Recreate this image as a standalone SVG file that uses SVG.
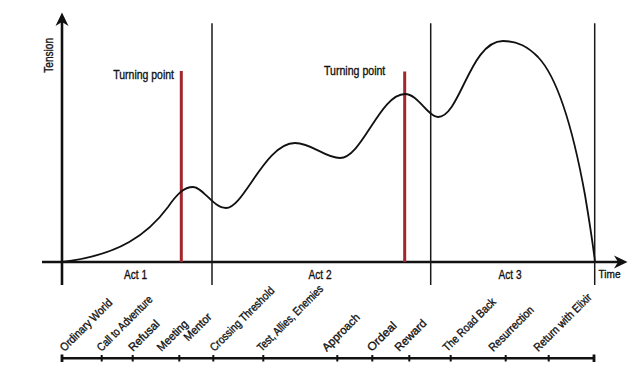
<svg xmlns="http://www.w3.org/2000/svg" width="640" height="371" viewBox="0 0 640 371">
<defs>
<marker id="arrow" viewBox="0 0 14 14" refX="4" refY="7" markerWidth="14" markerHeight="14" markerUnits="userSpaceOnUse" orient="auto">
<path d="M0,0.5 L13.5,7 L0,13.5 L4,7 Z" fill="#111"/>
</marker>
</defs>
<style>
.axis{stroke:#111;stroke-width:2.6;fill:none}
.div{stroke:#1a1a1a;stroke-width:1.5;fill:none}
.tp{stroke:#a3262c;stroke-width:3;fill:none}
.curve{stroke:#111;stroke-width:1.8;fill:none}
.t{font-family:"Liberation Sans",Arial,sans-serif;fill:#111;stroke:#111;stroke-width:0.35}
.lab{font-size:11.5px}
.big{font-size:12.5px}
</style>
<rect width="640" height="371" fill="#fff"/>
<g id="connectors">
<line id="y-axis" class="axis" x1="62" y1="285" x2="62" y2="22" marker-end="url(#arrow)"/>
<line id="x-axis" class="axis" x1="42" y1="262" x2="618" y2="262" marker-end="url(#arrow)"/>
<path id="act-dividers" class="div" d="M212,23.3V285M430.7,23.3V285M594.7,23.3V285"/>
<path id="turning-lines" class="tp" d="M181.3,71V262M404.7,71.5V262"/>
<path id="tension-curve" class="curve" d="M62,262 C120,255 148,234 168,207 C177,194 184,187 193,187 C203,187 213,208 226,208 C244,208 265,143 295,143 C312,143 325,158 340,158 C362,158 380,94 405,94 C418,94 428,117 438,117 C460,117 470,41 503,41 C518,41 528,47 538,57 C560,80 575,140 585,195 C590,225 593,245 595,262"/>
<line id="timeline" class="axis" x1="61" y1="358.3" x2="595" y2="358.3"/>
<path id="ticks" stroke="#111" stroke-width="2" fill="none" d="M101.7,355V361.5M132.7,355V361.5M179.3,355V361.5M213.3,355V361.5M263.3,355V361.5M337.3,355V361.5M372.3,355V361.5M409.3,355V361.5M450.7,355V361.5M505.7,355V361.5M548.7,355V361.5"/>
<path id="end-ticks" stroke="#111" stroke-width="2.8" fill="none" d="M62,354.5V362M594,354.5V362"/>
</g>
<g id="axis-labels">
<text class="t big" transform="translate(52.7,72.7) rotate(-90)" textLength="34.7" lengthAdjust="spacingAndGlyphs">Tension</text>
<text class="t" font-size="11.5" x="598.5" y="277.7" textLength="22" lengthAdjust="spacingAndGlyphs">Time</text>
</g>
<g id="acts">
<text class="t big" x="124" y="279.3" textLength="23" lengthAdjust="spacingAndGlyphs">Act 1</text>
<text class="t big" x="308.5" y="279.3" textLength="23" lengthAdjust="spacingAndGlyphs">Act 2</text>
<text class="t big" x="498.5" y="279.3" textLength="23" lengthAdjust="spacingAndGlyphs">Act 3</text>
</g>
<g id="turning-point-1"><text class="t big" x="113.3" y="78.7" textLength="60.7" lengthAdjust="spacingAndGlyphs">Turning point</text></g>
<g id="turning-point-2"><text class="t big" x="324" y="74.5" textLength="61.3" lengthAdjust="spacingAndGlyphs">Turning point</text></g>
<g id="stages">
<text class="t lab" transform="translate(64.5,352) rotate(-45)" textLength="68.7" lengthAdjust="spacingAndGlyphs">Ordinary World</text>
<text class="t lab" transform="translate(101.5,352) rotate(-45)" textLength="73.4" lengthAdjust="spacingAndGlyphs">Call to Adventure</text>
<text class="t lab" transform="translate(133,352) rotate(-45)" textLength="38.6" lengthAdjust="spacingAndGlyphs">Refusal</text>
<text class="t lab" transform="translate(161.5,352) rotate(-45)" textLength="38.6" lengthAdjust="spacingAndGlyphs">Meeting</text>
<text class="t lab" transform="translate(188.3,341.7) rotate(-45)" textLength="34" lengthAdjust="spacingAndGlyphs">Mentor</text>
<text class="t lab" transform="translate(214.5,352) rotate(-45)" textLength="85.7" lengthAdjust="spacingAndGlyphs">Crossing Threshold</text>
<text class="t lab" transform="translate(261.7,352) rotate(-45)" textLength="88.1" lengthAdjust="spacingAndGlyphs">Test, Allies, Enemies</text>
<text class="t lab" transform="translate(326.7,352) rotate(-45)" textLength="47.9" lengthAdjust="spacingAndGlyphs">Approach</text>
<text class="t lab" transform="translate(371.7,352) rotate(-45)" textLength="36.2" lengthAdjust="spacingAndGlyphs">Ordeal</text>
<text class="t lab" transform="translate(399.3,352) rotate(-45)" textLength="39.6" lengthAdjust="spacingAndGlyphs">Reward</text>
<text class="t lab" transform="translate(447.3,352) rotate(-45)" textLength="69.7" lengthAdjust="spacingAndGlyphs">The Road Back</text>
<text class="t lab" transform="translate(493.3,352) rotate(-45)" textLength="58.5" lengthAdjust="spacingAndGlyphs">Resurrection</text>
<text class="t lab" transform="translate(538.3,352) rotate(-45)" textLength="76.4" lengthAdjust="spacingAndGlyphs">Return with Elixir</text>
</g>
</svg>
